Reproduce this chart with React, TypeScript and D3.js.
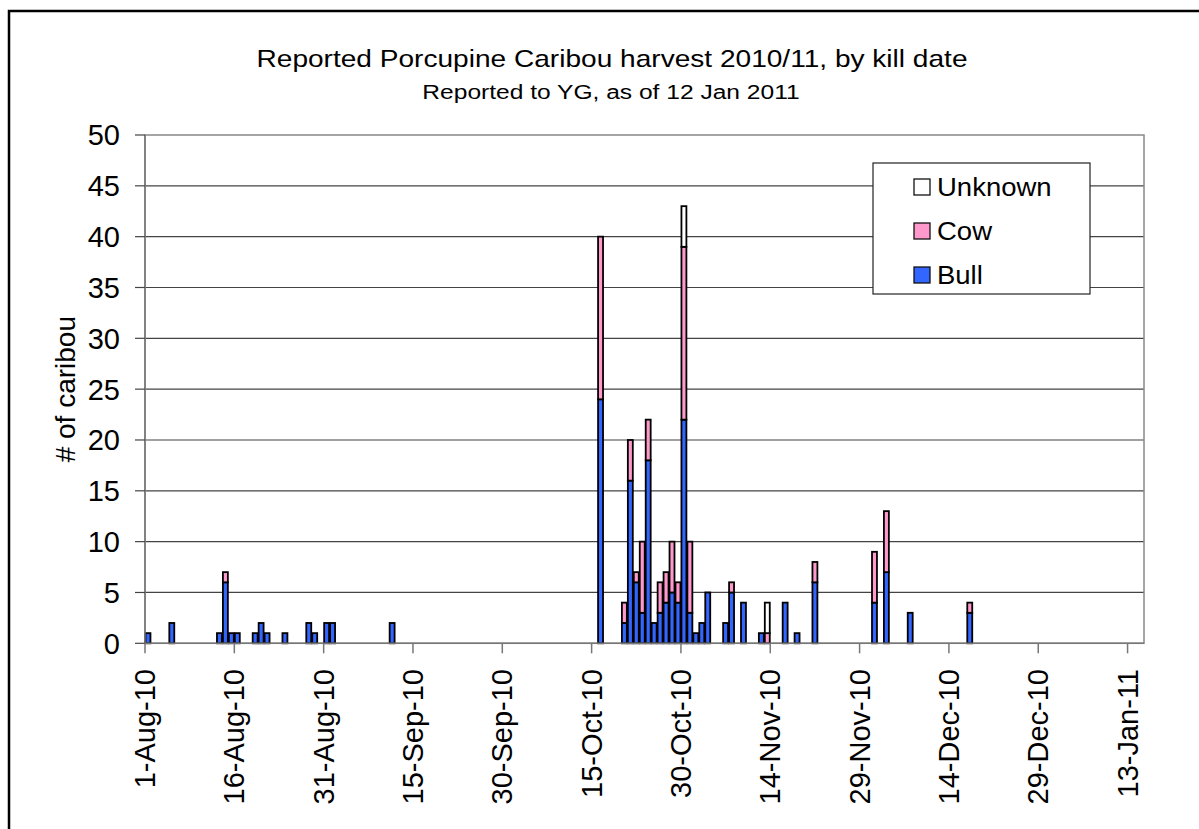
import React, { useEffect, useRef } from 'react';
import * as d3 from 'd3';

// kill dates with reported counts
const killDates = [
  '2010-08-01', '2010-08-05', '2010-08-13', '2010-08-14', '2010-08-15', '2010-08-16',
  '2010-08-19', '2010-08-20', '2010-08-21', '2010-08-24', '2010-08-28', '2010-08-29',
  '2010-08-31', '2010-09-01', '2010-09-11', '2010-10-16', '2010-10-20', '2010-10-21',
  '2010-10-22', '2010-10-23', '2010-10-24', '2010-10-25', '2010-10-26', '2010-10-27',
  '2010-10-28', '2010-10-29', '2010-10-30', '2010-10-31', '2010-11-01', '2010-11-02',
  '2010-11-03', '2010-11-06', '2010-11-07', '2010-11-09', '2010-11-12', '2010-11-13',
  '2010-11-16', '2010-11-18', '2010-11-21', '2010-12-01', '2010-12-03', '2010-12-07',
  '2010-12-17',
];
const bull = [
  1, 2, 1, 6, 1, 1, 1, 2, 1, 1, 2, 1, 2, 2, 2, 24, 2, 16, 6, 3, 18, 2, 3, 4, 5, 4, 22, 3,
  1, 2, 5, 2, 5, 4, 1, 0, 4, 1, 6, 4, 7, 3, 3,
];
const cow = [
  0, 0, 0, 1, 0, 0, 0, 0, 0, 0, 0, 0, 0, 0, 0, 16, 2, 4, 1, 7, 4, 0, 3, 3, 5, 2, 17, 7,
  0, 0, 0, 0, 1, 0, 0, 1, 0, 0, 2, 5, 6, 0, 1,
];
const unknown = [
  0, 0, 0, 0, 0, 0, 0, 0, 0, 0, 0, 0, 0, 0, 0, 0, 0, 0, 0, 0, 0, 0, 0, 0, 0, 0, 4, 0,
  0, 0, 0, 0, 0, 0, 0, 3, 0, 0, 0, 0, 0, 0, 0,
];
const tickDates = [
  '2010-08-01', '2010-08-16', '2010-08-31', '2010-09-15', '2010-09-30', '2010-10-15',
  '2010-10-30', '2010-11-14', '2010-11-29', '2010-12-14', '2010-12-29', '2011-01-13',
];
const seriesKeys = ['bull', 'cow', 'unknown'];
const seriesNames = { bull: 'Bull', cow: 'Cow', unknown: 'Unknown' };
const legendOrder = ['unknown', 'cow', 'bull'];

const colors = { bull: '#3366ff', cow: '#ff99cc', unknown: '#ffffff' };
const FONT = 'Arial, "Liberation Sans", sans-serif';

const App = () => {
  const svgRef = useRef<SVGSVGElement>(null);

  useEffect(() => {
    const svg = d3.select(svgRef.current);
    svg.selectAll('*').remove();

    const width = 1199;
    const height = 829;
    const plot = { left: 145, right: 1144, top: 135, bottom: 643.3 };

    const parse = d3.utcParse('%Y-%m-%d');
    const start = parse('2010-08-01') as Date;
    const dayMs = 864e5;

    const rows = killDates.map((d, i) => ({
      date: parse(d) as Date,
      bull: bull[i],
      cow: cow[i],
      unknown: unknown[i],
    }));

    const x = d3.scaleUtc()
      .domain([start, new Date(start.getTime() + 167.76 * dayMs)])
      .range([plot.left, plot.right]);
    const y = d3.scaleLinear().domain([0, 50]).range([plot.bottom, plot.top]);

    // outer chart frame (runs off the page on right/bottom)
    svg.append('rect')
      .attr('x', 9).attr('y', 11)
      .attr('width', width + 40).attr('height', height + 40)
      .attr('fill', 'white').attr('stroke', 'black').attr('stroke-width', 2.5);

    // titles
    svg.append('text')
      .attr('transform', 'translate(612,67) scale(1.17,1)')
      .attr('text-anchor', 'middle')
      .style('font-family', FONT).style('font-size', '24px')
      .text('Reported Porcupine Caribou harvest 2010/11, by kill date');
    svg.append('text')
      .attr('transform', 'translate(611,99) scale(1.17,1)')
      .attr('text-anchor', 'middle')
      .style('font-family', FONT).style('font-size', '21px')
      .text('Reported to YG, as of 12 Jan 2011');

    // gridlines
    const yTicks = y.ticks(10);
    svg.append('g').selectAll('line')
      .data(yTicks.filter(t => t > 0 && t < 50))
      .enter().append('line')
      .attr('x1', plot.left).attr('x2', plot.right)
      .attr('y1', d => y(d)).attr('y2', d => y(d))
      .attr('stroke', '#444').attr('stroke-width', 1.2);

    // plot border
    svg.append('rect')
      .attr('x', plot.left).attr('y', plot.top)
      .attr('width', plot.right - plot.left).attr('height', plot.bottom - plot.top)
      .attr('fill', 'none').attr('stroke', '#888').attr('stroke-width', 1.5);

    // stacked bars
    const stacked = d3.stack<any>().keys(seriesKeys)(rows);
    stacked.forEach(layer => {
      svg.append('g').selectAll('rect')
        .data(layer.filter(d => d[1] > d[0]))
        .enter().append('rect')
        .attr('x', d => x(d.data.date) + 0.5)
        .attr('width', d => x(new Date(d.data.date.getTime() + dayMs)) - x(d.data.date) - 1)
        .attr('y', d => y(d[1]))
        .attr('height', d => y(d[0]) - y(d[1]))
        .attr('fill', colors[layer.key])
        .attr('stroke', '#000').attr('stroke-width', 1.8);
    });

    // y axis
    const yAxis = svg.append('g');
    yAxis.append('line')
      .attr('x1', plot.left).attr('x2', plot.left)
      .attr('y1', plot.top).attr('y2', plot.bottom)
      .attr('stroke', '#777').attr('stroke-width', 1.5);
    yAxis.selectAll('line.tick')
      .data(yTicks).enter().append('line')
      .attr('class', 'tick')
      .attr('x1', plot.left - 10).attr('x2', plot.left)
      .attr('y1', d => y(d)).attr('y2', d => y(d))
      .attr('stroke', '#444').attr('stroke-width', 1.2);
    yAxis.selectAll('text')
      .data(yTicks).enter().append('text')
      .attr('x', 120).attr('y', d => y(d))
      .attr('dy', '0.36em')
      .attr('text-anchor', 'end')
      .style('font-family', FONT).style('font-size', '29px')
      .text(d => d);

    svg.append('text')
      .attr('transform', `translate(75,${(plot.top + plot.bottom) / 2}) rotate(-90)`)
      .attr('text-anchor', 'middle')
      .style('font-family', FONT).style('font-size', '28px')
      .text('# of caribou');

    // x axis
    const tickVals = tickDates.map(d => parse(d) as Date);
    const xAxis = svg.append('g');
    xAxis.append('line')
      .attr('x1', plot.left).attr('x2', plot.right)
      .attr('y1', plot.bottom).attr('y2', plot.bottom)
      .attr('stroke', '#777').attr('stroke-width', 1.5);
    xAxis.selectAll('line.tick')
      .data(tickVals).enter().append('line')
      .attr('class', 'tick')
      .attr('x1', d => x(d)).attr('x2', d => x(d))
      .attr('y1', plot.bottom).attr('y2', plot.bottom + 10)
      .attr('stroke', '#777').attr('stroke-width', 1.5);
    const fmt = d3.utcFormat('%-d-%b-%y');
    xAxis.selectAll('text')
      .data(tickVals).enter().append('text')
      .attr('transform', d => `translate(${x(d) + 10},669) rotate(-90)`)
      .attr('text-anchor', 'end')
      .style('font-family', FONT).style('font-size', '29px')
      .text(d => fmt(d));

    // legend
    const legend = svg.append('g');
    legend.append('rect')
      .attr('x', 873).attr('y', 163).attr('width', 217).attr('height', 131)
      .attr('fill', 'white').attr('stroke', '#222').attr('stroke-width', 1.2);
    legendOrder.forEach((k, i) => {
      const cy = 187 + i * 44;
      legend.append('rect')
        .attr('x', 914).attr('y', cy - 8).attr('width', 16).attr('height', 16)
        .attr('fill', colors[k]).attr('stroke', '#111').attr('stroke-width', 1.3);
      legend.append('text')
        .attr('transform', `translate(937,${cy + 9}) scale(1.1,1)`)
        .style('font-family', FONT).style('font-size', '25px')
        .text(seriesNames[k]);
    });
  }, []);

  return (
    <svg
      ref={svgRef}
      width={1199}
      height={829}
      style={{ position: 'absolute', left: 0, top: 0, background: 'white' }}
    />
  );
};

export default App;
